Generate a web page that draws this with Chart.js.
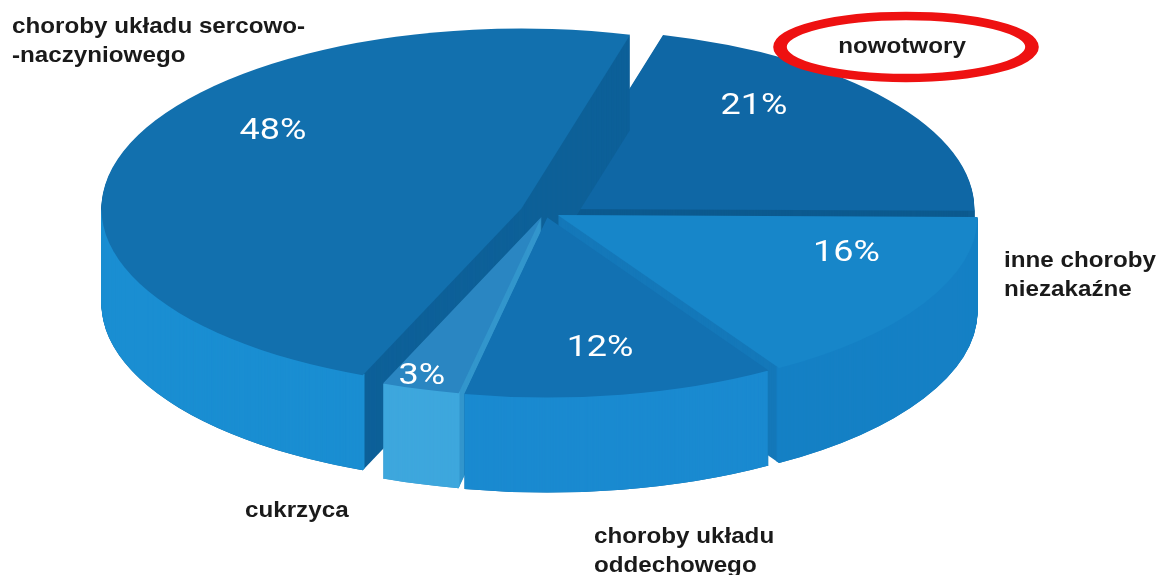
<!DOCTYPE html>
<html><head><meta charset="utf-8">
<script src="https://cdn.jsdelivr.net/npm/chart.js@4.4.1/dist/chart.umd.min.js"></script>
<style>html,body{margin:0;padding:0;background:#fff;overflow:hidden}canvas{display:block}</style>
</head><body>
<canvas id="c" width="1159" height="575"></canvas>
<script>
// ---- data ----
const categories = ['nowotwory', 'inne choroby niezakaźne', 'choroby układu oddechowego', 'cukrzyca', 'choroby układu sercowo-naczyniowego'];
const values = [21, 16, 12, 3, 48];
const valueLabels = ['21%', '16%', '12%', '3%', '48%'];
const categoryLines = [['nowotwory'], ['inne choroby', 'niezakaźne'], ['choroby układu', 'oddechowego'], ['cukrzyca'], ['choroby układu sercowo-', '-naczyniowego']];

// ---- style ----
const topColors  = ['#0f67a5', '#1786c9', '#1271b2', '#2a86c2', '#1270ae'];
const sideColors = ['#0d5c93', '#1580c5', '#1a8ad0', '#3ea7dd', '#1a8ed2'];
const cutColors  = ['#0c5a8f', '#1478b9', '#0f6aa6', '#3396cc', '#0e6199'];

const pie3d = {
  id: 'pie3d',
  beforeDatasetsDraw(chart, args, o) {
    const ctx = chart.ctx;
    const arcs = chart.getDatasetMeta(0).data;
    const base = ctx.getTransform();
    const a0 = arcs[0];
    const cxN = a0.x, cyN = a0.y, R = a0.outerRadius;
    const sx = o.rx / R, sy = o.ry / R;
    chart.$pie3d = {cxN, cyN, R, sx, sy};
    const setT = (d, ox, oy) => {
      ctx.setTransform(base);
      ctx.translate(o.cx, o.cy + d);
      ctx.scale(sx, sy);
      ctx.translate(-cxN + ox, -cyN + oy);
    };
    const mk = (arc, bg, inner, s, e) => {
      const f = Object.create(arc);
      f.options = Object.assign({}, arc.options, {backgroundColor: bg, borderWidth: 0, offset: 0, spacing: 0});
      if (inner != null) f.innerRadius = inner;
      if (s != null) { f.startAngle = s; f.endAngle = e; f.circumference = e - s; }
      return f;
    };
    // front-facing parts of an angle range (the lower half of the ellipse)
    const frontParts = (s, e) => {
      const out = [];
      for (let k = -2; k <= 2; k++) {
        const a = Math.max(s, k * 2 * Math.PI), b = Math.min(e, k * 2 * Math.PI + Math.PI);
        if (b > a) out.push([a, b]);
      }
      return out;
    };
    const order = arcs.map((a, i) => i).sort((i, j) => {
      const mi = (arcs[i].startAngle + arcs[i].endAngle) / 2;
      const mj = (arcs[j].startAngle + arcs[j].endAngle) / 2;
      return Math.sin(mi) - Math.sin(mj);
    });
    ctx.save();
    for (const i of order) {
      const arc = arcs[i];
      const mid = (arc.startAngle + arc.endAngle) / 2;
      const e = o.explode[i];
      const ox = Math.cos(mid) * e, oy = Math.sin(mid) * e;
      const cut = mk(arc, o.cut[i]);
      const sides = frontParts(arc.startAngle, arc.endAngle).map(p => mk(arc, o.side[i], arc.outerRadius - 4, p[0], p[1]));
      const top = mk(arc, o.top[i]);
      for (let d = o.depth; d >= 1; d--) { setT(d, ox, oy); cut.draw(ctx); }
      for (const side of sides) {
        for (let d = o.depth; d >= 1; d--) { setT(d, ox, oy); side.draw(ctx); }
      }
      setT(0, ox, oy); top.draw(ctx);
    }
    ctx.setTransform(base);
    ctx.restore();
    return false;
  },
  afterDraw(chart, args, o) {
    const ctx = chart.ctx;
    const arcs = chart.getDatasetMeta(0).data;
    const g = chart.$pie3d;
    ctx.save();
    // value labels on slices
    ctx.fillStyle = '#ffffff';
    ctx.font = o.valueFont;
    ctx.textAlign = 'center';
    ctx.textBaseline = 'middle';
    arcs.forEach((arc, i) => {
      const mid = (arc.startAngle + arc.endAngle) / 2;
      const e = o.explode[i];
      const [af, rf] = o.labelAt[i];
      const th = arc.startAngle + af * (arc.endAngle - arc.startAngle);
      const px = Math.cos(th) * rf * g.R + Math.cos(mid) * e;
      const py = Math.sin(th) * rf * g.R + Math.sin(mid) * e;
      const X = o.cx + px * g.sx, Y = o.cy + py * g.sy;
      ctx.save();
      ctx.translate(X, Y);
      ctx.scale(o.valueStretch, 1);
      ctx.fillText(valueLabels[i], 0, 0);
      ctx.restore();
    });
    // category labels
    ctx.fillStyle = '#1a1a1a';
    ctx.font = o.catFont;
    ctx.textBaseline = 'alphabetic';
    categoryLines.forEach((lines, i) => {
      const p = o.catAt[i];
      ctx.textAlign = p[2];
      lines.forEach((t, k) => {
        ctx.save();
        ctx.translate(p[0], p[1] + k * o.lineH);
        ctx.scale(o.catStretch, 1);
        ctx.fillText(t, 0, 0);
        ctx.restore();
      });
    });
    // red highlight ellipse
    const h = o.highlight;
    ctx.save();
    ctx.translate(h.x, h.y);
    ctx.scale(h.stretch, 1);
    ctx.beginPath();
    ctx.ellipse(0, 0, h.rx / h.stretch, h.ry, 0, 0, Math.PI * 2);
    ctx.lineWidth = h.width;
    ctx.strokeStyle = h.color;
    ctx.stroke();
    ctx.restore();
    ctx.restore();
  }
};

new Chart(document.getElementById('c'), {
  type: 'pie',
  data: {labels: categories, datasets: [{data: values, backgroundColor: topColors, borderWidth: 0}]},
  options: {
    responsive: false,
    animation: false,
    rotation: 15,
    layout: {padding: 0},
    events: [],
    plugins: {
      legend: {display: false},
      tooltip: {enabled: false},
      pie3d: {
        cx: 545, cy: 212, rx: 420, ry: 180, depth: 95,
        explode: [8, 10, 9, 8, 17],
        top: topColors, side: sideColors, cut: cutColors,
        labelAt: [[0.33, 0.74], [0.29, 0.72], [0.51, 0.74], [0.6, 0.93], [0.6, 0.73]],
        valueFont: '30px Roboto, "Liberation Sans", sans-serif',
        valueStretch: 1.2,
        catFont: 'bold 22px "Liberation Sans", Arial, sans-serif',
        catStretch: 1.1,
        lineH: 29,
        catAt: [[902, 53, 'center'], [1004, 267, 'left'], [594, 543, 'left'], [245, 517, 'left'], [12, 33, 'left']],
        highlight: {x: 906, y: 47, rx: 126, ry: 31, stretch: 1.6, width: 8.5, color: '#ee1111'}
      }
    }
  },
  plugins: [pie3d]
});
</script>
</body></html>
